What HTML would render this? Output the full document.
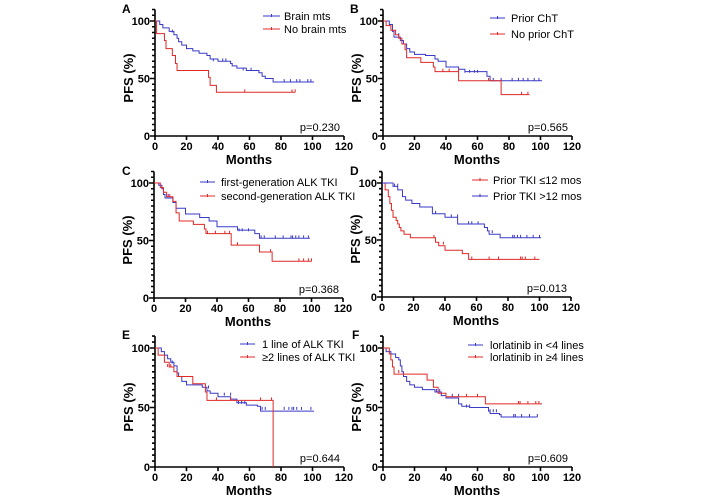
<!DOCTYPE html>
<html><head><meta charset="utf-8"><style>
body{margin:0;background:#fff}
svg{display:block;font-family:"Liberation Sans",Arial,sans-serif}
.ax{stroke:#000;stroke-width:1.6;fill:none;vector-effect:non-scaling-stroke}
.b{stroke:#3a3ac8;stroke-width:1;fill:none;vector-effect:non-scaling-stroke}
.r{stroke:#e02828;stroke-width:1;fill:none;vector-effect:non-scaling-stroke}
.tl{font-size:11px;font-weight:bold;text-anchor:middle}
.yl{font-size:11px;font-weight:bold;text-anchor:end}
.mo{font-size:13px;font-weight:bold;text-anchor:middle}
.pf{font-size:13px;font-weight:bold;text-anchor:middle}
.lg{font-size:11px}
.pv{font-size:11px;text-anchor:end}
.le{font-size:12px;font-weight:bold}
</style></head><body>
<svg width="706" height="497" viewBox="0 0 706 497">
<defs>
<g id="axes1">
<path class="ax" d="M0 0V110M0 0H120M-3.2 0H0M-3.2 50H0M-3.2 100H0M-1.9 5H0M-1.9 10H0M-1.9 15H0M-1.9 20H0M-1.9 25H0M-1.9 30H0M-1.9 35H0M-1.9 40H0M-1.9 45H0M-1.9 55H0M-1.9 60H0M-1.9 65H0M-1.9 70H0M-1.9 75H0M-1.9 80H0M-1.9 85H0M-1.9 90H0M-1.9 95H0M-1.9 105H0M-1.9 110H0M0 0V-3.5M20 0V-3.5M40 0V-3.5M60 0V-3.5M80 0V-3.5M100 0V-3.5M120 0V-3.5"/>
</g>
<g id="lab">
<text class="tl" x="0" y="14">0</text><text class="tl" x="31.5" y="14">20</text><text class="tl" x="63" y="14">40</text><text class="tl" x="94.5" y="14">60</text><text class="tl" x="126" y="14">80</text><text class="tl" x="157.5" y="14">100</text><text class="tl" x="189" y="14">120</text>
<text class="mo" x="94" y="28">Months</text>
</g>
</defs>

<!-- A -->
<text class="le" x="122" y="13">A</text>
<g transform="translate(155,136)">
<g transform="scale(1.575,-1.15)">
<use href="#axes1"/>
<path class="b" d="M0 100H3V97H5V94H9V91H12V88H14V85H15V82H17V79H20V76H24V74H28V72H33V70H35V67H40V65H48V63H49V61H52V59H58V57H66V55H68V52H70V50H75V47H101M11 90v2.5M37 65v2.5M43 65v2.5M45 65v2.5M56 57v2.5M61 57v2.5M68 52v2.5M70 50v2.5M82 47v2.5M86 47v2.5M90 47v2.5M92 47v2.5M97 47v2.5M99 47v2.5"/>
<path class="r" d="M0 100H1V89H6V83H7V76H11V70H13V63H14V57H34V51H35V44H39V38H89M6 83v2.5M57 38v2.5M87 38v2.5M89 38v2.5"/>
</g>
<text class="yl" x="-5" y="4">0</text><text class="yl" x="-5" y="-53.5">50</text><text class="yl" x="-5" y="-111">100</text>
<use href="#lab"/>
<text class="pv" x="185" y="-5">p=0.230</text>
<text class="pf" transform="translate(-22,-58) rotate(-90)">PFS (%)</text>
</g>
<path class="b" d="M263 16H280M271.5 14v3"/><text class="lg" x="284" y="20">Brain mts</text>
<path class="r" d="M263 29H280M271.5 27v3"/><text class="lg" x="284" y="33">No brain mts</text>

<!-- B -->
<text class="le" x="350" y="13">B</text>
<g transform="translate(383,136)">
<g transform="scale(1.575,-1.15)">
<use href="#axes1"/>
<path class="b" d="M0 100H4V97H6V91H7V86H10V86H11V83H13V80H15V76H17V73H20V71H27V70H33V67H35V65H40V60H48V58H52V56H66V52H68V48H101M10 87v2.5M52 55v2.5M55 55v2.5M58 55v2.5M60 55v2.5M68 48v2.5M70 48v2.5M75 48v2.5M82 48v2.5M86 48v2.5M89 48v2.5M92 48v2.5M96 48v2.5M99 48v2.5"/>
<path class="r" d="M0 100H2V96H5V92H8V88H10V85H12V80H14V75H15V68H24V64H32V60H33V56H48V48H75V36H93M33 56v2.5M38 56v2.5M42 56v2.5M48 56v2.5M67 48v2.5M88 36v2.5M92 36v2.5"/>
</g>
<text class="yl" x="-5" y="4">0</text><text class="yl" x="-5" y="-53.5">50</text><text class="yl" x="-5" y="-111">100</text>
<use href="#lab"/>
<text class="pv" x="185" y="-5">p=0.565</text>
<text class="pf" transform="translate(-22,-58) rotate(-90)">PFS (%)</text>
</g>
<path class="b" d="M490 18H505M497.5 16v3"/><text class="lg" x="511" y="22">Prior ChT</text>
<path class="r" d="M490 34H505M497.5 32v3"/><text class="lg" x="511" y="38">No prior ChT</text>

<!-- C -->
<text class="le" x="122" y="175">C</text>
<g transform="translate(154,298)">
<g transform="scale(1.575,-1.15)">
<use href="#axes1"/>
<path class="b" d="M0 100H3V98H5V95H6V90H7V87H12V83H14V78H20V73H29V70H35V67H40V62H53V59H64V56H67V52H99M9 88v2.5M54 58v2.5M56 58v2.5M60 58v2.5M68 52v2.5M70 52v2.5M77 52v2.5M82 52v2.5M87 52v2.5M88 52v2.5M90 52v2.5M92 52v2.5M95 52v2.5M98 52v2.5"/>
<path class="r" d="M0 100H4V96H6V92H8V88H12V84H14V74H16V67H25V64H32V60H33V56H49V46H67V40H75V32H100M10 88v2.5M34 56v2.5M39 56v2.5M45 56v2.5M48 56v2.5M53 46v2.5M74 40v2.5M92 32v2.5M95 32v2.5M98 32v2.5M100 32v2.5"/>
</g>
<text class="yl" x="-5" y="4">0</text><text class="yl" x="-5" y="-53.5">50</text><text class="yl" x="-5" y="-111">100</text>
<use href="#lab"/>
<text class="pv" x="185" y="-5">p=0.368</text>
<text class="pf" transform="translate(-22,-58) rotate(-90)">PFS (%)</text>
</g>
<path class="b" d="M200 182H215M207.5 180v3"/><text class="lg" x="221" y="186">first-generation ALK TKI</text>
<path class="r" d="M200 196H215M207.5 194v3"/><text class="lg" x="221" y="200">second-generation ALK TKI</text>

<!-- D -->
<text class="le" x="350" y="175">D</text>
<g transform="translate(382,297)">
<g transform="scale(1.575,-1.14)">
<use href="#axes1"/>
<path class="r" d="M0 100H2V94H4V88H5V82H6V76H7V70H9V67H10V64H11V61H12V58H14V55H18V52H34V48H36V45H40V41H51V38H55V33H100M33 52v2.5M39 46v2.5M57 33v2.5M68 33v2.5M74 33v2.5M88 33v2.5M89 33v2.5M91 33v2.5M97 33v2.5"/>
<path class="b" d="M0 100H7V97H10V94H13V88H15V85H19V82H24V79H32V73H40V70H48V64H65V61H67V58H68V55H75V52H101M8 97v2.5M10 97v2.5M34 73v2.5M44 70v2.5M48 70v2.5M55 64v2.5M57 64v2.5M61 64v2.5M68 56v2.5M70 56v2.5M75 52v2.5M83 52v2.5M84 52v2.5M86 52v2.5M88 52v2.5M92 52v2.5M96 52v2.5M100 52v2.5"/>
</g>
<text class="yl" x="-5" y="4">0</text><text class="yl" x="-5" y="-53">50</text><text class="yl" x="-5" y="-110">100</text>
<use href="#lab"/>
<text class="pv" x="185" y="-5">p=0.013</text>
<text class="pf" transform="translate(-22,-58) rotate(-90)">PFS (%)</text>
</g>
<path class="r" d="M472 180H488M480 178v3"/><text class="lg" x="493" y="184">Prior TKI ≤12 mos</text>
<path class="b" d="M472 196H488M480 194v3"/><text class="lg" x="493" y="200">Prior TKI &gt;12 mos</text>

<!-- E -->
<text class="le" x="122" y="339">E</text>
<g transform="translate(155,467)">
<g transform="scale(1.575,-1.19)">
<use href="#axes1"/>
<path class="b" d="M0 100H4V97H6V94H8V91H10V88H12V85H14V79H15V76H17V72H20V69H30V67H33V64H35V62H40V59H48V57H52V54H58V52H65V51H67V47H101M11 87v2.5M34 66v2.5M44 60v2.5M48 60v2.5M53 53v2.5M55 53v2.5M57 53v2.5M68 48v2.5M70 48v2.5M82 48v2.5M85 48v2.5M87 48v2.5M88 48v2.5M90 48v2.5M93 48v2.5M99 48v2.5"/>
<path class="r" d="M0 100H2V94H6V88H9V84H12V80H14V76H24V70H32V63H33V56H75V0M8 84v2.5M10 84v2.5M33 56v2.5M39 56v2.5M48 56v2.5M67 56v2.5M74 56v2.5"/>
</g>
<text class="yl" x="-5" y="4">0</text><text class="yl" x="-5" y="-55.5">50</text><text class="yl" x="-5" y="-115">100</text>
<use href="#lab"/>
<text class="pv" x="185" y="-5">p=0.644</text>
<text class="pf" transform="translate(-22,-60) rotate(-90)">PFS (%)</text>
</g>
<path class="b" d="M240 344H255M247.5 342v3"/><text class="lg" x="262" y="348">1 line of ALK TKI</text>
<path class="r" d="M240 357H255M247.5 355v3"/><text class="lg" x="262" y="361">≥2 lines of ALK TKI</text>

<!-- F -->
<text class="le" x="352" y="339">F</text>
<g transform="translate(383,467)">
<g transform="scale(1.575,-1.19)">
<use href="#axes1"/>
<path class="b" d="M0 100H2V97H5V95H8V92H10V90H11V85H12V80H13V76H15V72H17V69H20V67H25V65H33V63H37V60H40V58H48V53H50V51H55V50H67V47H68V45H74V44H75V42H98M34 63v2.5M36 63v2.5M44 59v2.5M48 59v2.5M53 50v2.5M55 50v2.5M68 46v2.5M70 46v2.5M72 46v2.5M83 42v2.5M84 42v2.5M88 42v2.5M93 42v2.5M98 42v2.5"/>
<path class="r" d="M0 100H4V95H5V90H6V84H7V78H28V73H32V67H35V62H40V59H65V53H101M10 79v2.5M53 59v2.5M60 59v2.5M86 53v2.5M87 53v2.5M92 53v2.5M97 53v2.5M99 53v2.5"/>
</g>
<text class="yl" x="-5" y="4">0</text><text class="yl" x="-5" y="-55.5">50</text><text class="yl" x="-5" y="-115">100</text>
<use href="#lab"/>
<text class="pv" x="185" y="-5">p=0.609</text>
<text class="pf" transform="translate(-22,-60) rotate(-90)">PFS (%)</text>
</g>
<path class="b" d="M468 345H483M475.5 343v3"/><text class="lg" x="490" y="349">lorlatinib in &lt;4 lines</text>
<path class="r" d="M468 357H483M475.5 355v3"/><text class="lg" x="490" y="361">lorlatinib in ≥4 lines</text>
</svg>
</body></html>
